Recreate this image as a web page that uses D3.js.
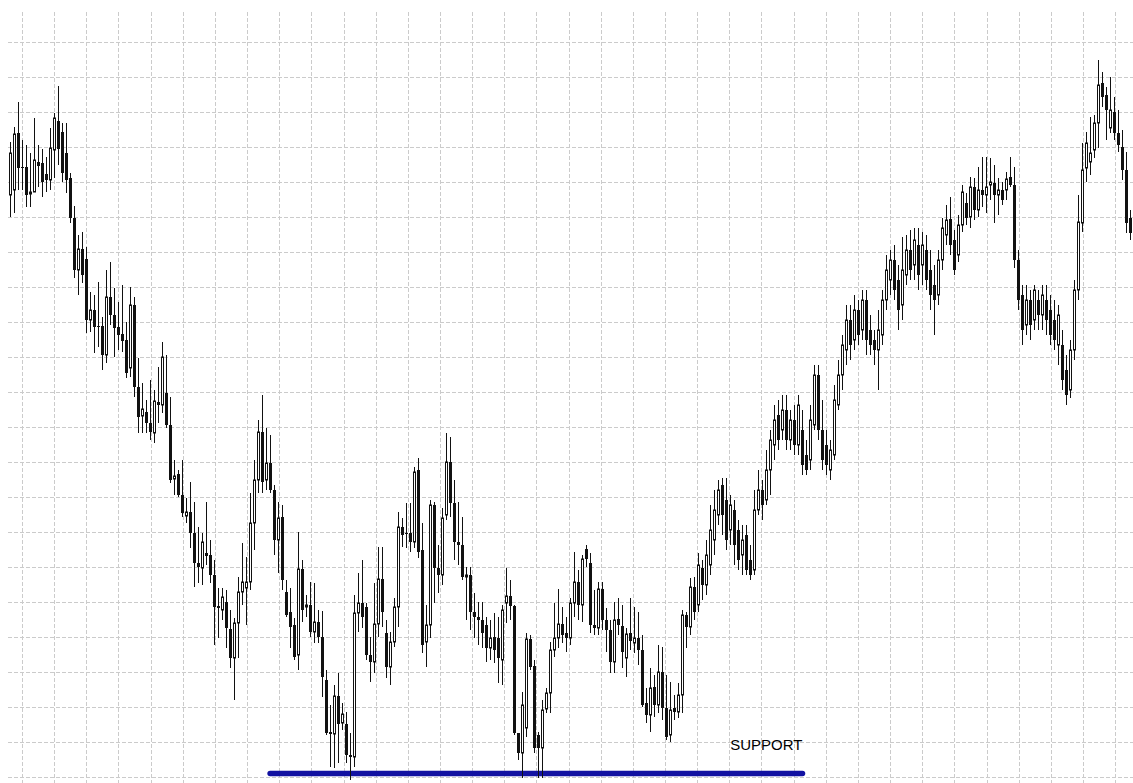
<!DOCTYPE html>
<html>
<head>
<meta charset="utf-8">
<script src="https://cdn.jsdelivr.net/npm/d3@7"></script>
<style>
body { margin: 0; background: #fff; }
svg { display: block; }
</style>
</head>
<body>
<script>
var width = 1133
var height = 783

// price points per bar (281 bars)
var open = [
  605,610,667,633,633,606,608,638,637,626, 620,650,679,668,647,622,582,530,551,541,
  480,490,474,474,445,503,485,473,466,460, 432,495,413,384,388,377,367,398,395,407,
  375,321,326,305,284,288,267,237,232,247, 245,225,194,190,198,171,142,177,208,212,
  218,277,320,368,320,337,310,260,283,208, 188,175,145,231,193,195,168,178,163,120,
  68,66,104,77,76,45,43,187,197,193, 145,138,176,221,167,133,158,193,273,267,
  267,258,330,250,158,175,295,232,225,285, 338,297,258,255,223,225,188,183,180,175,
  152,163,162,140,197,204,194,67,47,72, 161,134,65,52,91,107,150,162,176,167,
  162,197,218,195,251,237,175,172,211,180, 170,138,181,174,142,167,157,162,150,97,
  85,113,95,128,92,65,92,88,105,185, 173,213,195,232,215,235,260,285,315,300,
  270,290,270,245,265,240,230,290,310,300, 330,355,385,370,390,360,380,355,370,345,
  340,375,425,370,355,330,345,395,425,450, 480,460,490,470,500,470,460,450,465,500,
  520,540,520,495,525,550,535,555,535,550, 530,515,505,540,565,581,560,545,575,597,
  583,613,590,610,605,615,617,605,610,610, 623,615,540,505,475,500,480,500,485,500,
  490,480,455,455,430,410,450,510,577,632, 638,650,677,717,705,672,688,667,653,630,582
]
var high = [
  658,673,698,660,655,647,682,655,651,643, 672,687,714,677,677,627,594,565,568,553,
  508,505,518,483,530,538,512,498,515,478, 513,503,442,417,400,420,410,433,458,445,
  403,340,330,340,302,318,298,273,267,298, 260,240,212,212,210,190,182,223,257,243,
  307,340,380,405,372,365,315,298,295,220, 212,182,268,240,205,218,217,190,189,130,
  95,115,127,97,88,67,205,227,240,197, 163,217,253,253,180,168,202,288,282,297,
  297,333,342,277,195,300,298,255,292,367, 363,320,298,283,233,233,207,198,198,183,
  180,187,183,195,232,220,195,67,108,167, 165,140,68,100,112,158,197,211,193,183,
  202,248,230,245,255,247,210,218,218,192, 180,198,202,195,172,202,193,188,165,112,
  132,125,155,153,125,118,105,117,190,188, 222,223,247,240,260,295,310,320,322,322,
  305,300,280,275,275,255,310,330,320,350, 370,395,400,405,405,390,395,405,390,360,
  395,435,435,400,370,360,415,440,465,495, 495,505,500,510,510,485,470,490,510,545,
  550,555,535,563,565,570,572,572,568,565, 550,535,550,582,595,603,570,585,615,607,
  623,622,633,643,643,642,635,622,618,628, 643,633,550,515,515,510,515,510,515,515,
  505,500,495,470,445,460,520,605,657,668, 683,685,740,728,713,723,703,690,670,648,590
]
var low = [
  583,587,610,610,593,593,608,613,603,608, 610,622,635,618,607,577,522,505,517,467,
  468,447,453,430,437,475,443,450,448,422, 423,403,367,367,367,360,357,377,387,372,
  317,305,303,283,277,252,213,217,215,235, 217,155,162,180,152,132,100,142,195,175,
  210,250,307,307,310,307,245,227,210,183, 152,140,130,178,183,163,157,157,103,65,
  33,32,37,70,37,20,33,168,172,140, 118,127,163,173,122,115,153,173,253,252,
  248,252,242,147,133,162,197,207,215,280, 283,240,235,220,180,170,162,155,152,138,
  140,137,117,115,177,180,65,40,22,63, 130,47,22,22,87,87,143,152,157,148,
  155,183,180,178,233,167,165,165,170,148, 127,127,165,132,123,150,147,135,93,77,
  68,83,87,80,60,58,80,82,87,152, 165,180,188,200,205,225,245,275,265,250,
  255,235,230,225,225,220,225,285,280,295, 305,340,350,360,350,350,345,345,325,325,
  330,370,360,330,325,320,340,390,410,435, 440,450,455,460,445,445,435,410,455,490,
  505,500,470,480,515,520,520,510,515,510, 490,465,495,530,555,545,525,538,568,575,
  572,580,583,593,587,600,577,585,595,600, 613,532,490,455,465,460,470,470,470,465,
  455,450,435,410,395,402,440,500,568,618, 625,642,652,693,660,667,660,648,620,567,560
]
var close = [
  647,666,632,632,605,608,640,634,618,620, 652,682,651,627,620,582,530,551,525,480,
  490,473,473,445,503,485,472,465,459,427, 495,413,383,391,377,368,399,395,443,375,
  320,324,305,287,288,267,237,233,258,244, 225,193,192,203,172,142,177,208,218,218,
  277,320,368,318,337,310,260,282,220,185, 173,143,231,190,195,168,178,163,123,67,
  66,104,76,86,45,43,187,197,183,145, 138,176,221,188,133,158,193,273,265,266,
  258,328,248,155,175,295,232,225,282,338, 297,258,255,223,225,188,183,180,167,152,
  162,150,142,190,204,194,67,47,95,161, 133,52,52,90,107,150,162,176,165,162,
  197,218,195,241,241,175,172,211,180,170, 138,180,175,148,166,159,162,150,95,85,
  112,95,128,92,63,90,88,105,185,173, 213,188,235,215,245,270,290,310,285,260,
  295,255,240,260,230,225,290,310,295,330, 360,380,360,390,360,380,355,395,335,330,
  380,425,370,340,335,350,400,425,455,480, 455,490,465,500,460,455,450,470,500,530,
  540,510,490,530,550,530,560,525,555,520, 505,500,540,572,580,555,530,575,608,582,
  613,590,610,605,613,618,605,610,600,621, 615,540,500,470,500,475,510,485,505,480,
  465,460,485,420,405,450,510,578,630,657, 647,677,715,703,690,690,667,655,630,577,567
]

// support level drawn across bars 65..198
var supportPrice = 26.5
var supportBars = [64.9, 198]
var supportLabel = 'SUPPORT'

var gridPrices = d3.range(758.3, 0, -35)
var gridBars = d3.range(2.875, 281, 8.0375)

var data = open.map((o, i) => ({ i: i, o: o, h: high[i], l: low[i], c: close[i] }))

var svg = d3.select('body').append('svg').attr('width', width).attr('height', height)
svg.append('rect').attr('width', width).attr('height', height).attr('fill', '#fff')

var x = d3.scaleLinear().domain([0, data.length - 1]).range([10.5, 10.5 + 4 * (data.length - 1)])
var y = d3.scaleLinear().domain([0, 800]).range([800, 0])

// dashed grid
var grid = svg.append('g').attr('stroke', '#cbcbcb').attr('stroke-dasharray', '4,2').attr('stroke-width', 1)
grid.selectAll('.h').data(gridPrices).enter().append('line')
  .attr('x1', 8).attr('x2', width)
  .attr('y1', d => Math.round(y(d)) + 0.5).attr('y2', d => Math.round(y(d)) + 0.5)
grid.selectAll('.v').data(gridBars).enter().append('line')
  .attr('y1', 12).attr('y2', height)
  .attr('x1', d => Math.round(x(d)) + 0.5).attr('x2', d => Math.round(x(d)) + 0.5)

// support line
svg.append('line')
  .attr('x1', x(supportBars[0])).attr('x2', x(supportBars[1]))
  .attr('y1', y(supportPrice)).attr('y2', y(supportPrice))
  .attr('stroke', '#1212a2').attr('stroke-width', 5.5).attr('stroke-linecap', 'round')

var candles = svg.append('g').selectAll('g').data(data).enter().append('g')

candles.append('line')
  .attr('x1', d => x(d.i)).attr('x2', d => x(d.i))
  .attr('y1', d => y(d.h)).attr('y2', d => y(d.l))
  .attr('stroke', '#111').attr('stroke-width', 1)

candles.filter(d => d.c < d.o).append('rect')
  .attr('x', d => x(d.i) - 1.5).attr('width', 3)
  .attr('y', d => y(d.o)).attr('height', d => Math.max(1, y(d.c) - y(d.o)))
  .attr('fill', '#111')

candles.filter(d => d.c >= d.o).append('rect')
  .attr('x', d => x(d.i) - 1).attr('width', 2)
  .attr('y', d => y(d.c)).attr('height', d => Math.max(1, y(d.o) - y(d.c)))
  .attr('fill', '#fff').attr('stroke', '#111').attr('stroke-width', 1)

svg.append('text')
  .attr('x', x(supportBars[1])).attr('y', y(supportPrice) - 23.5)
  .attr('text-anchor', 'end')
  .attr('font-family', 'Liberation Sans, Arial, sans-serif')
  .attr('font-size', 15)
  .attr('fill', '#000')
  .text(supportLabel)
</script>
</body>
</html>
